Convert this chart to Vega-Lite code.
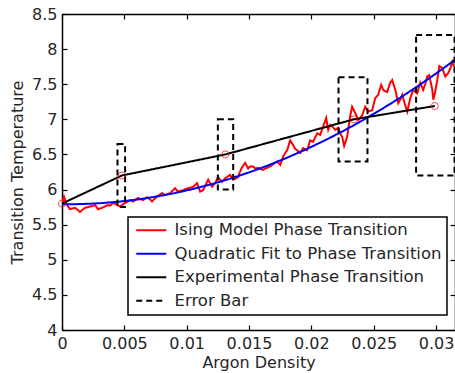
{
  "$schema": "https://vega.github.io/schema/vega-lite/v6.json",
  "width": 393,
  "height": 316,
  "autosize": {"type": "none"},
  "padding": {"left": 62, "top": 14, "right": 0, "bottom": 43},
  "background": "white",
  "config": {
    "font": "DejaVu Sans",
    "view": {"stroke": null},
    "axis": {
      "grid": false,
      "domainColor": "#000000",
      "domainWidth": 1.5,
      "tickColor": "#000000",
      "tickWidth": 1.2,
      "tickSize": -5,
      "labelFontSize": 16,
      "labelColor": "#262626",
      "labelFlush": false,
      "titleFontSize": 16,
      "titleFontWeight": "normal",
      "titleColor": "#262626",
      "labelPadding": 10
    },
    "legend": {
      "orient": "none",
      "legendX": 66,
      "legendY": 203,
      "strokeColor": "#000000",
      "strokeWidth": 1.5,
      "fillColor": "#ffffff",
      "padding": 5,
      "symbolType": "M-1,0H5",
      "symbolSize": 100,
      "symbolStrokeWidth": 2,
      "labelFontSize": 16.5,
      "labelColor": "#262626",
      "labelOffset": 25,
      "labelLimit": 400,
      "rowPadding": 6.5
    }
  },
  "datasets": {
    "ising": [
      {"x": 0, "t": 5.80}, {"x": 0.00016, "t": 5.90}, {"x": 0.00032, "t": 5.81}, {"x": 0.00048, "t": 5.76},
      {"x": 0.00064, "t": 5.72}, {"x": 0.0008, "t": 5.73}, {"x": 0.00104, "t": 5.74}, {"x": 0.00128, "t": 5.71},
      {"x": 0.00144, "t": 5.68}, {"x": 0.00169, "t": 5.72}, {"x": 0.00185, "t": 5.74}, {"x": 0.00209, "t": 5.75},
      {"x": 0.00225, "t": 5.76}, {"x": 0.00249, "t": 5.77}, {"x": 0.00265, "t": 5.78}, {"x": 0.00289, "t": 5.72},
      {"x": 0.00305, "t": 5.73}, {"x": 0.00321, "t": 5.74}, {"x": 0.00345, "t": 5.76}, {"x": 0.00369, "t": 5.78},
      {"x": 0.00385, "t": 5.77}, {"x": 0.00409, "t": 5.81}, {"x": 0.00425, "t": 5.80}, {"x": 0.00441, "t": 5.78},
      {"x": 0.00465, "t": 5.76}, {"x": 0.0049, "t": 5.79}, {"x": 0.00506, "t": 5.81}, {"x": 0.0053, "t": 5.83},
      {"x": 0.00546, "t": 5.85}, {"x": 0.0057, "t": 5.83}, {"x": 0.00594, "t": 5.86}, {"x": 0.0061, "t": 5.88},
      {"x": 0.00634, "t": 5.86}, {"x": 0.0065, "t": 5.85}, {"x": 0.00666, "t": 5.87}, {"x": 0.00682, "t": 5.89},
      {"x": 0.00706, "t": 5.86}, {"x": 0.00722, "t": 5.83}, {"x": 0.00738, "t": 5.86}, {"x": 0.00762, "t": 5.90},
      {"x": 0.00787, "t": 5.93}, {"x": 0.00803, "t": 5.95}, {"x": 0.00827, "t": 5.92}, {"x": 0.00851, "t": 5.94},
      {"x": 0.00867, "t": 5.95}, {"x": 0.00891, "t": 5.99}, {"x": 0.00907, "t": 6.02}, {"x": 0.00931, "t": 5.97},
      {"x": 0.00947, "t": 5.98}, {"x": 0.00971, "t": 5.99}, {"x": 0.00995, "t": 6.01}, {"x": 0.01011, "t": 6.02},
      {"x": 0.01035, "t": 6.03}, {"x": 0.01051, "t": 6.04}, {"x": 0.01083, "t": 6.09}, {"x": 0.01108, "t": 5.97},
      {"x": 0.01132, "t": 5.99}, {"x": 0.01156, "t": 6.08}, {"x": 0.01172, "t": 6.14}, {"x": 0.01188, "t": 6.09},
      {"x": 0.01204, "t": 6.04}, {"x": 0.01228, "t": 6.09}, {"x": 0.01252, "t": 6.18}, {"x": 0.01268, "t": 6.14},
      {"x": 0.01284, "t": 6.11}, {"x": 0.01308, "t": 6.16}, {"x": 0.01332, "t": 6.19}, {"x": 0.01348, "t": 6.21},
      {"x": 0.01372, "t": 6.14}, {"x": 0.01396, "t": 6.16}, {"x": 0.01413, "t": 6.18}, {"x": 0.01429, "t": 6.26},
      {"x": 0.01445, "t": 6.32}, {"x": 0.01469, "t": 6.38}, {"x": 0.01493, "t": 6.30}, {"x": 0.01509, "t": 6.33},
      {"x": 0.01533, "t": 6.33}, {"x": 0.01549, "t": 6.30}, {"x": 0.01573, "t": 6.31}, {"x": 0.01597, "t": 6.29},
      {"x": 0.01613, "t": 6.28}, {"x": 0.01629, "t": 6.30}, {"x": 0.01645, "t": 6.31}, {"x": 0.01669, "t": 6.33},
      {"x": 0.01685, "t": 6.35}, {"x": 0.01709, "t": 6.38}, {"x": 0.01726, "t": 6.40}, {"x": 0.0175, "t": 6.35},
      {"x": 0.01774, "t": 6.47}, {"x": 0.0179, "t": 6.52}, {"x": 0.01806, "t": 6.56}, {"x": 0.0183, "t": 6.70},
      {"x": 0.01854, "t": 6.63}, {"x": 0.0187, "t": 6.58}, {"x": 0.01886, "t": 6.56}, {"x": 0.0191, "t": 6.52},
      {"x": 0.01934, "t": 6.59}, {"x": 0.0195, "t": 6.57}, {"x": 0.01966, "t": 6.56}, {"x": 0.0199, "t": 6.70},
      {"x": 0.02014, "t": 6.68}, {"x": 0.0203, "t": 6.74}, {"x": 0.02047, "t": 6.80}, {"x": 0.02071, "t": 6.78},
      {"x": 0.02095, "t": 6.90}, {"x": 0.02119, "t": 7.02}, {"x": 0.02135, "t": 6.85}, {"x": 0.02151, "t": 6.92},
      {"x": 0.02167, "t": 6.90}, {"x": 0.02191, "t": 6.85}, {"x": 0.02215, "t": 6.88}, {"x": 0.02231, "t": 6.80},
      {"x": 0.02247, "t": 6.75}, {"x": 0.02263, "t": 6.62}, {"x": 0.02287, "t": 6.75}, {"x": 0.02311, "t": 7.04},
      {"x": 0.02327, "t": 7.18}, {"x": 0.02352, "t": 7.09}, {"x": 0.02376, "t": 6.99}, {"x": 0.02392, "t": 7.02},
      {"x": 0.02408, "t": 7.06}, {"x": 0.02432, "t": 7.18}, {"x": 0.02456, "t": 7.11}, {"x": 0.02472, "t": 7.12},
      {"x": 0.02488, "t": 7.13}, {"x": 0.02512, "t": 7.30}, {"x": 0.02536, "t": 7.35}, {"x": 0.0256, "t": 7.49},
      {"x": 0.02576, "t": 7.42}, {"x": 0.02592, "t": 7.40}, {"x": 0.02608, "t": 7.39}, {"x": 0.02632, "t": 7.52},
      {"x": 0.02648, "t": 7.56}, {"x": 0.02673, "t": 7.42}, {"x": 0.02697, "t": 7.23}, {"x": 0.02713, "t": 7.28},
      {"x": 0.02729, "t": 7.35}, {"x": 0.02753, "t": 7.20}, {"x": 0.02769, "t": 7.11}, {"x": 0.02793, "t": 7.30},
      {"x": 0.02817, "t": 7.42}, {"x": 0.02849, "t": 7.37}, {"x": 0.02873, "t": 7.52}, {"x": 0.02897, "t": 7.42},
      {"x": 0.02913, "t": 7.50}, {"x": 0.02929, "t": 7.61}, {"x": 0.02945, "t": 7.63}, {"x": 0.0297, "t": 7.42},
      {"x": 0.02978, "t": 7.28}, {"x": 0.02994, "t": 7.40}, {"x": 0.0301, "t": 7.56}, {"x": 0.03026, "t": 7.76},
      {"x": 0.0305, "t": 7.73}, {"x": 0.03074, "t": 7.61}, {"x": 0.03098, "t": 7.66}, {"x": 0.03114, "t": 7.72},
      {"x": 0.0313, "t": 7.82}, {"x": 0.03146, "t": 7.75}
    ],
    "fit": [
      {"x": 0, "t": 5.790}, {"x": 0.0015, "t": 5.793}, {"x": 0.003, "t": 5.805}, {"x": 0.0045, "t": 5.826},
      {"x": 0.006, "t": 5.857}, {"x": 0.0075, "t": 5.898}, {"x": 0.009, "t": 5.948}, {"x": 0.0105, "t": 6.008},
      {"x": 0.012, "t": 6.077}, {"x": 0.0135, "t": 6.156}, {"x": 0.015, "t": 6.244}, {"x": 0.0165, "t": 6.342},
      {"x": 0.018, "t": 6.450}, {"x": 0.0195, "t": 6.567}, {"x": 0.021, "t": 6.693}, {"x": 0.0225, "t": 6.829},
      {"x": 0.024, "t": 6.974}, {"x": 0.0255, "t": 7.130}, {"x": 0.027, "t": 7.294}, {"x": 0.0285, "t": 7.468},
      {"x": 0.03, "t": 7.652}, {"x": 0.0315, "t": 7.845}
    ],
    "exp": [
      {"x": 0, "t": 5.80}, {"x": 0.0048, "t": 6.2}, {"x": 0.0131, "t": 6.5}, {"x": 0.0234, "t": 7.0}, {"x": 0.0299, "t": 7.19}
    ],
    "err": [
      {"x1": 0.00445, "x2": 0.00506, "lo": 5.75, "hi": 6.65},
      {"x1": 0.0125, "x2": 0.01373, "lo": 6.0, "hi": 7.0},
      {"x1": 0.02218, "x2": 0.0245, "lo": 6.4, "hi": 7.6},
      {"x1": 0.0284, "x2": 0.03148, "lo": 6.2, "hi": 8.2}
    ]
  },
  "layer": [
    {
      "data": {"name": "ising"},
      "mark": {"type": "line", "strokeWidth": 2, "clip": true},
      "encoding": {
        "x": {
          "field": "x", "type": "quantitative",
          "scale": {"domain": [0, 0.03152], "nice": false, "zero": false},
          "axis": {"orient": "bottom", "values": [0, 0.005, 0.01, 0.015, 0.02, 0.025, 0.03], "format": "~g", "title": "Argon Density", "titlePadding": 3}
        },
        "y": {
          "field": "t", "type": "quantitative",
          "scale": {"domain": [4, 8.5], "nice": false, "zero": false},
          "axis": {"orient": "left", "values": [4, 4.5, 5, 5.5, 6, 6.5, 7, 7.5, 8, 8.5], "format": "~g", "title": "Transition Temperature", "titlePadding": 6}
        },
        "color": {
          "datum": "Ising Model Phase Transition", "type": "nominal",
          "scale": {
            "domain": ["Ising Model Phase Transition", "Quadratic Fit to Phase Transition", "Experimental Phase Transition", "Error Bar"],
            "range": ["#ff0000", "#0000ff", "#000000", "#000000"]
          },
          "legend": {"title": null}
        },
        "strokeDash": {
          "datum": "Ising Model Phase Transition", "type": "nominal",
          "scale": {
            "domain": ["Ising Model Phase Transition", "Quadratic Fit to Phase Transition", "Experimental Phase Transition", "Error Bar"],
            "range": [[1, 0], [1, 0], [1, 0], [6, 4]]
          },
          "legend": {"title": null}
        }
      }
    },
    {
      "data": {"name": "fit"},
      "mark": {"type": "line", "strokeWidth": 2, "clip": true},
      "encoding": {
        "x": {"field": "x", "type": "quantitative", "axis": {"orient": "top", "values": [0, 0.005, 0.01, 0.015, 0.02, 0.025, 0.03], "labels": false, "title": null}},
        "y": {"field": "t", "type": "quantitative", "axis": {"orient": "right", "values": [4, 4.5, 5, 5.5, 6, 6.5, 7, 7.5, 8, 8.5], "labels": false, "title": null}},
        "color": {"datum": "Quadratic Fit to Phase Transition", "type": "nominal"},
        "strokeDash": {"datum": "Quadratic Fit to Phase Transition", "type": "nominal"}
      }
    },
    {
      "data": {"name": "exp"},
      "mark": {"type": "line", "strokeWidth": 2, "clip": true},
      "encoding": {
        "x": {"field": "x", "type": "quantitative", "axis": null},
        "y": {"field": "t", "type": "quantitative", "axis": null},
        "color": {"datum": "Experimental Phase Transition", "type": "nominal"},
        "strokeDash": {"datum": "Experimental Phase Transition", "type": "nominal"}
      }
    },
    {
      "data": {"name": "err"},
      "mark": {"type": "rect", "filled": false, "strokeWidth": 2, "strokeDash": [6, 4], "clip": true},
      "encoding": {
        "x": {"field": "x1", "type": "quantitative", "axis": null},
        "x2": {"field": "x2"},
        "y": {"field": "lo", "type": "quantitative", "axis": null},
        "y2": {"field": "hi"},
        "color": {"datum": "Error Bar", "type": "nominal"}
      }
    },
    {
      "data": {"name": "exp"},
      "mark": {"type": "point", "shape": "circle", "filled": false, "color": "#ff0000", "size": 50, "strokeWidth": 1, "clip": false},
      "encoding": {
        "x": {"field": "x", "type": "quantitative", "axis": null},
        "y": {"field": "t", "type": "quantitative", "axis": null}
      }
    }
  ],
  "resolve": {"axis": {"x": "independent", "y": "independent"}}
}
